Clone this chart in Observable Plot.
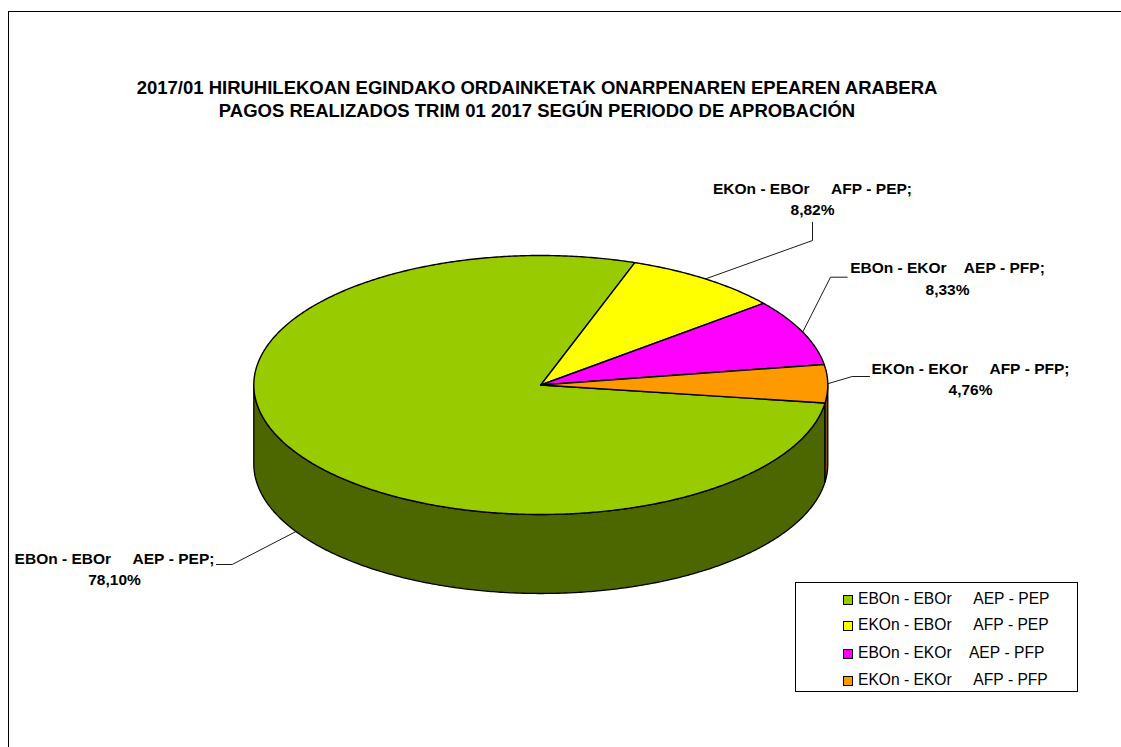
<!DOCTYPE html>
<html>
<head>
<meta charset="utf-8">
<script src="https://cdn.jsdelivr.net/npm/d3@7"></script>
<script src="https://cdn.jsdelivr.net/npm/@observablehq/plot@0.6"></script>
<style>
  html, body { margin: 0; padding: 0; background: #fff; width: 1121px; height: 747px; overflow: hidden; }
  body { position: relative; font-family: "Liberation Sans", Arial, sans-serif; }
  #frame { position: absolute; left: 8px; top: 11px; width: 1300px; height: 900px; border: 1px solid #000; box-sizing: border-box; }
  #chart { position: absolute; left: 0; top: 0; }
  #title { position: absolute; left: 0; width: 1074px; top: 75.5px; text-align: center; font-weight: bold; font-size: 18.5px; line-height: 23px; color: #000; white-space: nowrap; }
  #legend { position: absolute; left: 795px; top: 582px; width: 283px; height: 110px; border: 1px solid #000; box-sizing: border-box; background: #fff; }
  .li { position: absolute; left: 47px; height: 18px; line-height: 18px; font-size: 15.6px; white-space: pre; color: #000; }
  .sw { display: inline-block; width: 10px; height: 10px; border: 1px solid #000; box-sizing: border-box; margin-right: 5px; vertical-align: -1px; }
</style>
</head>
<body>
<div id="frame"></div>
<div id="chart"></div>
<div id="title">2017/01 HIRUHILEKOAN EGINDAKO ORDAINKETAK ONARPENAREN EPEAREN ARABERA<br>PAGOS REALIZADOS TRIM 01 2017 SEGÚN PERIODO DE APROBACIÓN</div>
<div id="legend"></div>
<script>
// ---- data ----
const categories = [
  "EBOn - EBOr     AEP - PEP",
  "EKOn - EBOr     AFP - PEP",
  "EBOn - EKOr    AEP - PFP",
  "EKOn - EKOr     AFP - PFP"
];
const shares = [78.10, 8.82, 8.33, 4.76];
const shareLabels = ["78,10%", "8,82%", "8,33%", "4,76%"];
const colors = ["#99cc00", "#ffff00", "#ff00ff", "#ff9900"];
const sideColors = ["#4c6600", "#808000", "#800080", "#804c00"];

// ---- layout (pixels) ----
const cx = 540.3, rx = 287, cy = 384.5, ry = 129.5;
const depth = 0.61;               // side height in y-units
const firstAngle = 98 * Math.PI / 180;
// label block centre, leader text-end point, leader elbow point (pixels)
const labelLayout = [
  {c: [114, 567],   t: [216, 564],   e: [231.7, 564]},
  {c: [812, 197],   t: [812, 221.7], e: [812, 240]},
  {c: [947, 276.5], t: [846.7, 276.7], e: [830, 276.7]},
  {c: [970, 377],   t: [869, 376],   e: [851.7, 376]}
];
const U = px => (px - cx) / rx;
const V = py => (cy - py) / ry;

const arcs = d3.pie().sort(null).startAngle(firstAngle).endAngle(firstAngle + 2 * Math.PI)(shares);

function arcPts(a0, a1, dy = 0) {
  const n = Math.max(2, Math.ceil(Math.abs(a1 - a0) / (0.5 * Math.PI / 180)));
  return d3.range(n + 1).map(i => {
    const a = a0 + (a1 - a0) * i / n;
    return {x: Math.sin(a), y: Math.cos(a) - dy};
  });
}

const marks = [];
// front side walls
arcs.forEach((a, i) => {
  for (const [w0, w1] of [[Math.PI / 2, 1.5 * Math.PI], [2.5 * Math.PI, 3.5 * Math.PI]]) {
    const s = Math.max(a.startAngle, w0), e = Math.min(a.endAngle, w1);
    if (e > s) {
      const pts = [...arcPts(s, e), ...arcPts(e, s, depth)];
      pts.push(pts[0]);
      marks.push(Plot.line(pts, {x: "x", y: "y", fill: sideColors[i], stroke: "#000", strokeWidth: 1.3, strokeLinejoin: "round"}));
    }
  }
});
// top faces
arcs.forEach((a, i) => {
  const pts = [{x: 0, y: 0}, ...arcPts(a.startAngle, a.endAngle), {x: 0, y: 0}];
  marks.push(Plot.line(pts, {x: "x", y: "y", fill: colors[i], stroke: "#000", strokeWidth: 1.4, strokeLinejoin: "round"}));
});
// leader lines
arcs.forEach((a, i) => {
  const m = (a.startAngle + a.endAngle) / 2;
  const mm = ((m % (2 * Math.PI)) + 2 * Math.PI) % (2 * Math.PI);
  const front = mm > Math.PI / 2 && mm < 1.5 * Math.PI;
  const edge = {x: Math.sin(m), y: Math.cos(m) - (front ? depth : 0)};
  const L = labelLayout[i];
  const pts = [edge, {x: U(L.e[0]), y: V(L.e[1])}, {x: U(L.t[0]), y: V(L.t[1])}];
  marks.push(Plot.line(pts, {x: "x", y: "y", stroke: "#000", strokeWidth: 0.9}));
});
// data labels
const labelRows = categories.map((c, i) => ({
  x: U(labelLayout[i].c[0]), y: V(labelLayout[i].c[1]),
  text: c.replace(/ /g, "\u00a0") + ";\n" + shareLabels[i]
}));
marks.push(Plot.text(labelRows, {x: "x", y: "y", text: "text", fontWeight: "bold", fontSize: 15.5, lineHeight: 1.4, fill: "#000", textAnchor: "middle", lineAnchor: "middle"}));

const chart = Plot.plot({
  width: 1121, height: 747, margin: 0,
  style: {fontFamily: "'Liberation Sans', Arial, sans-serif", background: "transparent", overflow: "visible"},
  x: {domain: [-1, 1], range: [cx - rx, cx + rx], axis: null},
  y: {domain: [1, -1], range: [cy - ry, cy + ry], axis: null},
  marks
});
document.getElementById("chart").appendChild(chart);

// legend
const legend = document.getElementById("legend");
const rowY = [6.5, 33, 60.5, 88];
categories.forEach((c, i) => {
  const d = document.createElement("div");
  d.className = "li";
  d.style.top = rowY[i] + "px";
  const sw = document.createElement("span");
  sw.className = "sw";
  sw.style.background = colors[i];
  d.appendChild(sw);
  d.appendChild(document.createTextNode(c.replace(/ /g, "\u00a0")));
  legend.appendChild(d);
});
</script>
</body>
</html>
